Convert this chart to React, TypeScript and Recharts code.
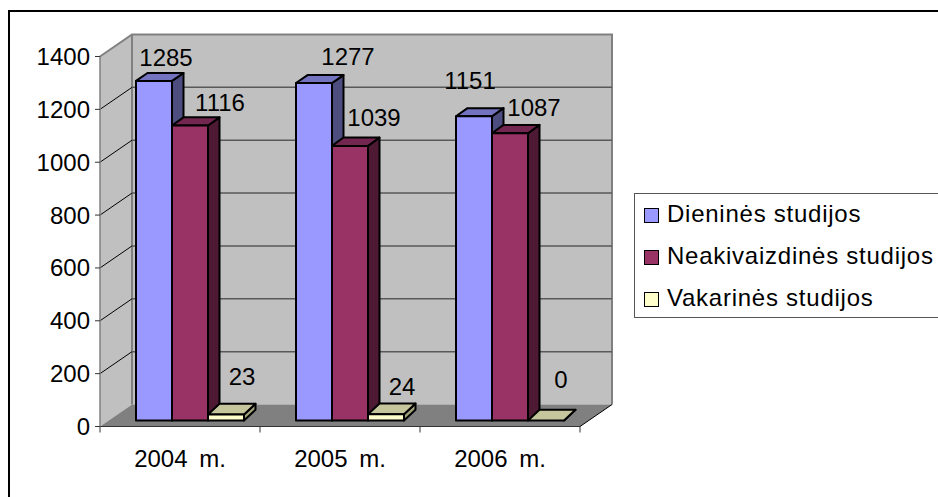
import React from 'react';
import { Bar, BarChart, CartesianGrid, LabelList, Legend, usePlotArea, XAxis, YAxis } from 'recharts';

const years = ['2004 m.', '2005 m.', '2006 m.'];
const dieninesValues = [1285, 1277, 1151];
const neakivaizdinesValues = [1116, 1039, 1087];
const vakarinesValues = [23, 24, 0];
const valueTicks = [0, 200, 400, 600, 800, 1000, 1200, 1400];

const chartData = years.map((year, i) => ({
  year,
  dienines: dieninesValues[i],
  neakivaizdines: neakivaizdinesValues[i],
  vakarines: vakarinesValues[i],
}));

const FONT = '"Liberation Sans", Arial, sans-serif';
// how far the back wall sits from the front plane
const WALL_DX = 32;
const WALL_DY = 22;
// how far the bars stand behind the front plane
const BAR_DX = 10;
const BAR_DY = 6;
const BAR_DEPTH = 11.5;

// hand placed data labels, as dragged around in the original sheet
const dieninesNudge = [[12, -23], [34, -27], [-4, -36]];
const neakivaizdinesNudge = [[30, -23], [24, -28], [24, -26]];
const vakarinesNudge = [[16, -38], [16, -28], [15, -41]];

const Walls = () => {
  const plot = usePlotArea();
  if (!plot) return null;
  const { x, y, width, height } = plot;
  const bottom = y + height;
  const right = x + width;
  const marks = years.map((_, i) => x + (width * i) / years.length).concat(right);
  return (
    <g>
      <polygon
        points={`${x},${y} ${x + WALL_DX},${y - WALL_DY} ${x + WALL_DX},${bottom - WALL_DY} ${x},${bottom}`}
        fill="#c0c0c0"
      />
      <rect x={x + WALL_DX} y={y - WALL_DY} width={width} height={height} fill="#c0c0c0" />
      <polygon
        points={`${x},${bottom} ${x + WALL_DX},${bottom - WALL_DY} ${right + WALL_DX},${bottom - WALL_DY} ${right},${bottom}`}
        fill="#808080"
      />
      <polyline
        points={`${x},${y} ${x + WALL_DX},${y - WALL_DY} ${right + WALL_DX},${y - WALL_DY} ${right + WALL_DX},${bottom - WALL_DY}`}
        fill="none"
        stroke="#808080"
        strokeWidth={2}
      />
      <line x1={right + WALL_DX} y1={bottom - WALL_DY} x2={right} y2={bottom} stroke="#000" />
      <line x1={x + WALL_DX} y1={y - WALL_DY} x2={x + WALL_DX} y2={bottom - WALL_DY} stroke="#808080" strokeWidth={2} />
      {marks.map((m) => (
        <line key={m} x1={m} y1={bottom} x2={m} y2={bottom + 6} stroke="#333" />
      ))}
    </g>
  );
};

// each horizontal grid line runs up the side wall and then along the back wall
const WallGridLine = (props: any) => {
  const { x1, x2, y1 } = props;
  if (y1 > props.offset.top + props.offset.height - 1) return <g key={props.key} />;
  const top = y1 < props.offset.top + 1;
  return (
    <g key={props.key}>
      {!top && <line x1={x1} y1={y1} x2={x1 + WALL_DX} y2={y1 - WALL_DY} stroke="#000" />}
      {!top && <line x1={x1 + WALL_DX} y1={y1 - WALL_DY} x2={x2 + WALL_DX} y2={y1 - WALL_DY} stroke="#595959" strokeWidth={1.5} />}
    </g>
  );
};

const Box = (props: any) => {
  const { x, y, width, height, fill, topFill, sideFill } = props;
  const left = x + BAR_DX;
  const right = left + width;
  const top = y - BAR_DY;
  const bottom = top + height;
  // the original's perspective makes the depth flatter on tall bars
  const rise = 10.7 - height / 120;
  const dx = BAR_DEPTH;
  return (
    <g stroke="#000" strokeWidth={2} strokeLinejoin="round">
      <polygon points={`${right},${top} ${right + dx},${top - rise} ${right + dx},${bottom - rise} ${right},${bottom}`} fill={sideFill} />
      <polygon points={`${left},${top} ${left + dx},${top - rise} ${right + dx},${top - rise} ${right},${top}`} fill={topFill} />
      {height > 0 && <rect x={left} y={top} width={width} height={height} fill={fill} />}
    </g>
  );
};

const ValueLabel = (props: any) => {
  const { x, y, width, value, index, nudge } = props;
  return (
    <text
      x={x + width / 2 + BAR_DX + nudge[index][0]}
      y={y - BAR_DY + nudge[index][1]}
      textAnchor="middle"
      dominantBaseline="central"
      fontFamily={FONT}
      fontSize={24}
      fill="#000"
    >
      {value}
    </text>
  );
};

const LegendBox = ({ payload }: any) => (
  <div
    style={{
      position: 'relative',
      width: 310,
      height: 125,
      boxSizing: 'border-box',
      border: '1.5px solid #555',
      background: '#fff',
      fontFamily: FONT,
      fontSize: 24,
      letterSpacing: 0.75,
      color: '#000',
    }}
  >
    {(payload || []).map((entry: any, i: number) => (
      <div key={entry.value} style={{ position: 'absolute', left: 9, top: -1 + i * 42, height: 42, display: 'flex', alignItems: 'center', whiteSpace: 'nowrap' }}>
        <span style={{ display: 'inline-block', width: 13, height: 13, border: '1.5px solid #000', background: entry.color, marginRight: 8, marginTop: 4 }} />
        {entry.value}
      </div>
    ))}
  </div>
);

const App = () => (
  <div
    style={{
      position: 'absolute',
      left: 0,
      top: 0,
      width: 938,
      height: 497,
      overflow: 'hidden',
      background: '#fff',
    }}
  >
    <div style={{ position: 'absolute', left: 7.5, top: 10, right: 0, bottom: 0, borderLeft: '2px solid #000', borderTop: '2px solid #000' }} />
    <BarChart
      width={938}
      height={497}
      data={chartData}
      margin={{ top: 56.5, right: 48, bottom: 30.5, left: 40 }}
      barSize={36}
      barGap={0}
      barCategoryGap={26}
    >
      <Walls />
      <CartesianGrid zIndex={100} vertical={false} horizontal={(p: any) => <WallGridLine {...p} />} />
      <XAxis
        dataKey="year"
        height={40}
        axisLine={{ stroke: '#333' }}
        tickLine={false}
        tickMargin={17}
        tick={{ fontFamily: FONT, fontSize: 24, fill: '#000', wordSpacing: 5 }}
      />
      <YAxis
        width={60}
        domain={[0, 1400]}
        ticks={valueTicks}
        interval={0}
        axisLine={{ stroke: '#808080', strokeWidth: 1.5 }}
        tickLine={{ stroke: '#333' }}
        tickSize={5}
        tickMargin={5}
        tick={{ fontFamily: FONT, fontSize: 24, fill: '#000' }}
      />
      <Legend
        layout="vertical"
        align="right"
        verticalAlign="top"
        wrapperStyle={{ left: 634, top: 192.5, width: 310, margin: 0 }}
        content={<LegendBox />}
      />
      <Bar
        dataKey="dienines"
        name="Dieninės studijos"
        fill="#9999ff"
        isAnimationActive={false}
        shape={(p: any) => <Box {...p} topFill="#7373bf" sideFill="#4d4d80" />}
      >
        <LabelList dataKey="dienines" content={(p: any) => <ValueLabel {...p} nudge={dieninesNudge} />} />
      </Bar>
      <Bar
        dataKey="neakivaizdines"
        name="Neakivaizdinės studijos"
        fill="#993366"
        isAnimationActive={false}
        shape={(p: any) => <Box {...p} topFill="#732650" sideFill="#4d1933" />}
      >
        <LabelList dataKey="neakivaizdines" content={(p: any) => <ValueLabel {...p} nudge={neakivaizdinesNudge} />} />
      </Bar>
      <Bar
        dataKey="vakarines"
        name="Vakarinės studijos"
        fill="#ffffcc"
        isAnimationActive={false}
        shape={(p: any) => <Box {...p} topFill="#c6c69c" sideFill="#a0a07a" />}
      >
        <LabelList dataKey="vakarines" content={(p: any) => <ValueLabel {...p} nudge={vakarinesNudge} />} />
      </Bar>
    </BarChart>
  </div>
);

export default App;
